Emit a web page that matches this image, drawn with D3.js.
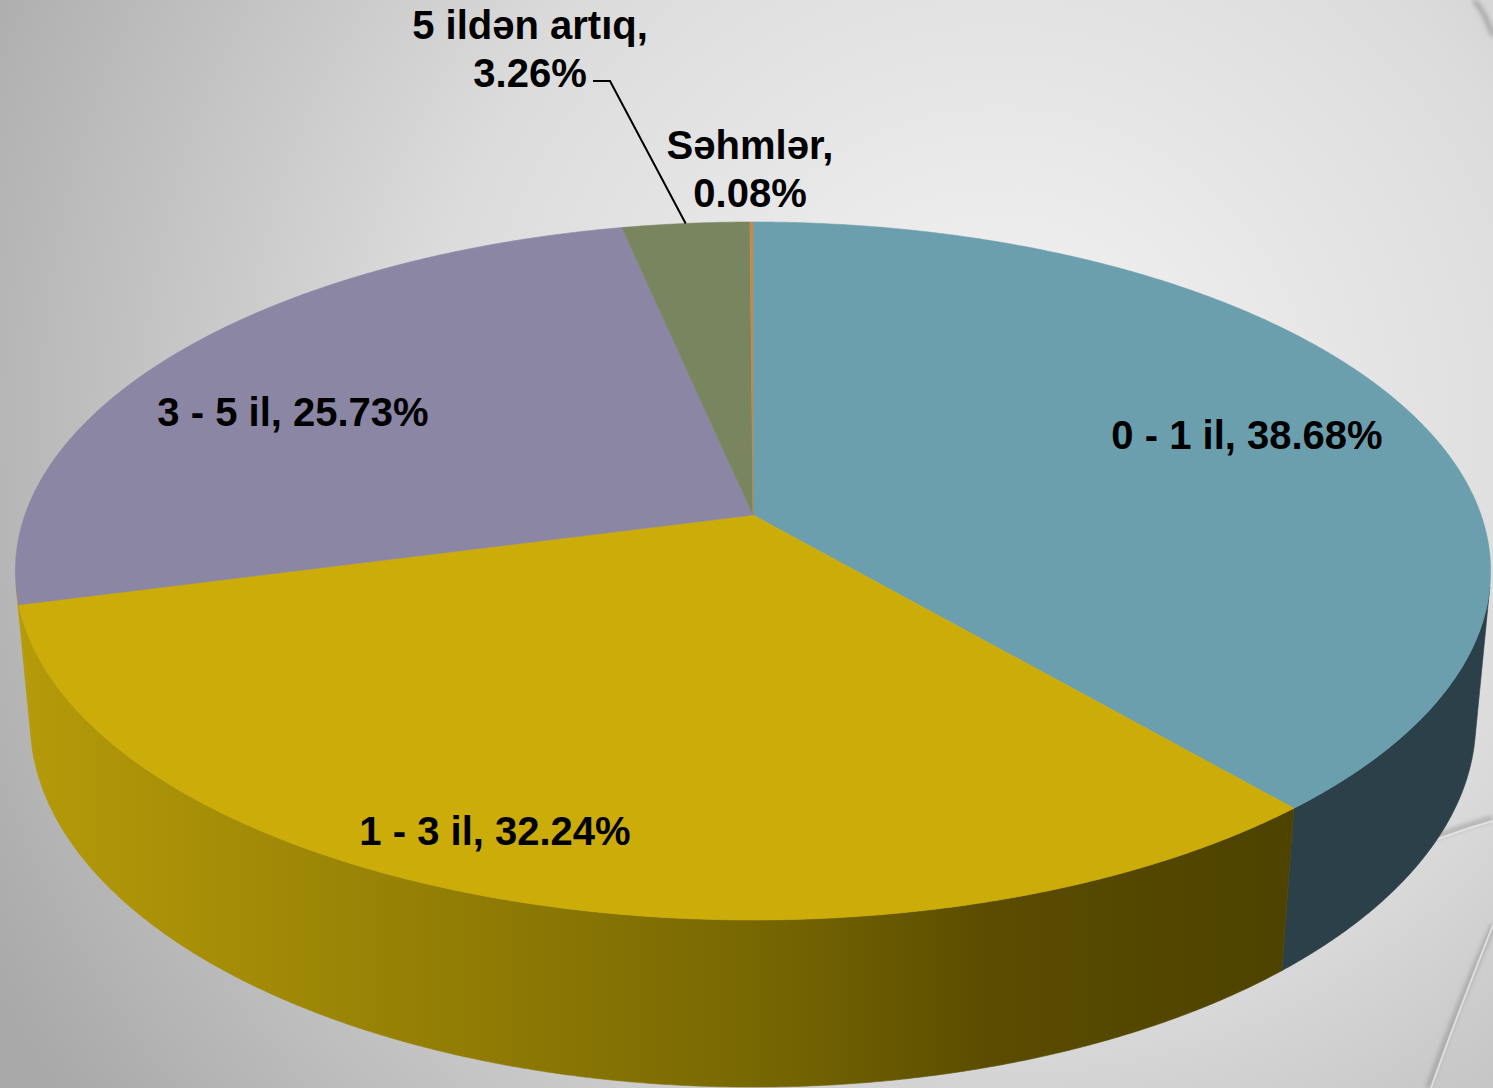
<!DOCTYPE html>
<html>
<head>
<meta charset="utf-8">
<script src="https://cdn.jsdelivr.net/npm/d3@7"></script>
<style>
  body { margin: 0; overflow: hidden; }
  svg { display: block; }
</style>
</head>
<body>
<div id="chart"></div>
<script>
const W = 1493, H = 1088;

// data
const categories = ["0 - 1 il", "1 - 3 il", "3 - 5 il", "5 ildən artıq", "Səhmlər"];
const values = [38.68, 32.24, 25.73, 3.26, 0.08];
const topColors = ["#6B9FAE", "#CBAC08", "#8A86A3", "#78855F", "#C08A50"];
// the lavender side is only a sliver at the silhouette; it reads as the gold rim in the original
const sideColors = ["#2C4049", "url(#side-gold)", "url(#side-gold)", "#434C33", "#7A5020"];
const twoLines = [false, false, false, true, true];

// label layout (centre x, first baseline)
const labelPos = [[1247, 449], [495, 845], [293, 426], [530, 39], [750, 159]];

// 3d view: camera elevation, distance, focal length, thickness
const X0 = 753, Y0 = 515;
const beta = 27.84 * Math.PI / 180;
const cb = Math.cos(beta), sb = Math.sin(beta);
const D = 5.512, F = 4013, T = 0.2357;

function project(phi, r, z) {
  const X = r * Math.sin(phi), Y = -r * Math.cos(phi);
  const depth = D - Y * cb - z * sb;
  return [X0 + F * X / depth, Y0 + F * (Y * sb - z * cb) / depth];
}

const svg = d3.select("#chart").append("svg")
    .attr("width", W)
    .attr("height", H);

const defs = svg.append("defs");

// background
const bg = defs.append("radialGradient")
    .attr("id", "bg")
    .attr("gradientUnits", "userSpaceOnUse")
    .attr("cx", 1000).attr("cy", 420).attr("r", 1150);
bg.append("stop").attr("offset", "0%").attr("stop-color", "#f4f4f4");
bg.append("stop").attr("offset", "50%").attr("stop-color", "#dcdcdc");
bg.append("stop").attr("offset", "100%").attr("stop-color", "#a9a9a9");

const gold = defs.append("linearGradient")
    .attr("id", "side-gold")
    .attr("gradientUnits", "userSpaceOnUse")
    .attr("x1", 15).attr("y1", 0).attr("x2", 1290).attr("y2", 0);
[[0, "#B59B09"], [0.30, "#978105"], [0.58, "#786803"], [0.77, "#5A4C00"], [1, "#4D4200"]]
  .forEach(s => gold.append("stop").attr("offset", s[0]).attr("stop-color", s[1]));

const shadow = defs.append("filter").attr("id", "soft")
    .attr("x", "-20%").attr("y", "-20%").attr("width", "140%").attr("height", "140%");
shadow.append("feGaussianBlur").attr("stdDeviation", 2.5);

svg.append("rect")
    .attr("width", W).attr("height", H)
    .attr("fill", "url(#bg)");

// theme swooshes on the right
const swoosh = svg.append("g").attr("class", "swoosh");
swoosh.append("path")
    .attr("d", "M1250,930 Q1380,850 1493,818")
    .attr("fill", "none").attr("stroke", "#a4a4a4").attr("stroke-width", 4)
    .attr("filter", "url(#soft)");
swoosh.append("path")
    .attr("d", "M1250,933 Q1380,853 1493,821")
    .attr("fill", "none").attr("stroke", "#e2e2e2").attr("stroke-width", 2);
swoosh.append("path")
    .attr("d", "M1493,925 Q1458,1005 1428,1088")
    .attr("fill", "none").attr("stroke", "#9a9a9a").attr("stroke-width", 4)
    .attr("filter", "url(#soft)");
swoosh.append("path")
    .attr("d", "M1493,925 Q1461,1005 1431,1088")
    .attr("fill", "none").attr("stroke", "#dedede").attr("stroke-width", 2);
swoosh.append("path")
    .attr("d", "M1474,0 Q1486,14 1493,36")
    .attr("fill", "none").attr("stroke", "#9a9a9a").attr("stroke-width", 4)
    .attr("filter", "url(#soft)");
svg.append("line")
    .attr("x1", 0).attr("x2", W).attr("y1", H - 1.5).attr("y2", H - 1.5)
    .attr("stroke", "#9c9c9c").attr("stroke-width", 3).attr("filter", "url(#soft)");

const arcs = d3.pie().sort(null).value(d => d)(values);

const line = d3.line();
const step = Math.PI / 720;

function arcPoints(a0, a1, z) {
  const n = Math.max(2, Math.ceil((a1 - a0) / step));
  return d3.range(n + 1).map(i => project(a0 + (a1 - a0) * i / n, 1, z));
}

// visible side: outward normal facing the camera
const cutoff = Math.acos(-1 / (D * cb));
const visStart = cutoff, visEnd = 2 * Math.PI - cutoff;

const sideG = svg.append("g").attr("class", "sides");
arcs.forEach((a, i) => {
  const s = Math.max(a.startAngle, visStart), e = Math.min(a.endAngle, visEnd);
  if (e <= s) return;
  const pts = arcPoints(s, e, 0).concat(arcPoints(s, e, -T).reverse());
  sideG.append("path")
      .attr("d", line(pts) + "Z")
      .attr("fill", sideColors[i])
      .attr("stroke", sideColors[i])
      .attr("stroke-width", 0.6);
});

const topG = svg.append("g").attr("class", "top-faces");
arcs.forEach((a, i) => {
  const pts = [project(0, 0, 0)].concat(arcPoints(a.startAngle, a.endAngle, 0));
  topG.append("path")
      .attr("d", line(pts) + "Z")
      .attr("fill", topColors[i])
      .attr("stroke", topColors[i])
      .attr("stroke-width", 0.6);
});

// leader line for "5 ildən artıq"
const a3 = arcs[3];
const tip = project((a3.startAngle + a3.endAngle) / 2, 1, 0);
svg.append("path")
    .attr("d", line([[593, 81], [610, 81], tip]))
    .attr("fill", "none")
    .attr("stroke", "#000")
    .attr("stroke-width", 2);

// labels
const labels = svg.append("g")
    .attr("font-family", "'Liberation Sans', Arial, sans-serif")
    .attr("font-weight", "bold")
    .attr("font-size", 40)
    .attr("fill", "#000")
    .attr("text-anchor", "middle");

categories.forEach((c, i) => {
  const pct = values[i].toFixed(2) + "%";
  const lines = twoLines[i] ? [c + ",", pct] : [c + ", " + pct];
  const t = labels.append("text")
      .attr("x", labelPos[i][0])
      .attr("y", labelPos[i][1]);
  lines.forEach((l, j) => {
    t.append("tspan")
        .attr("x", labelPos[i][0])
        .attr("dy", j === 0 ? 0 : 48)
        .text(l);
  });
});
</script>
</body>
</html>
